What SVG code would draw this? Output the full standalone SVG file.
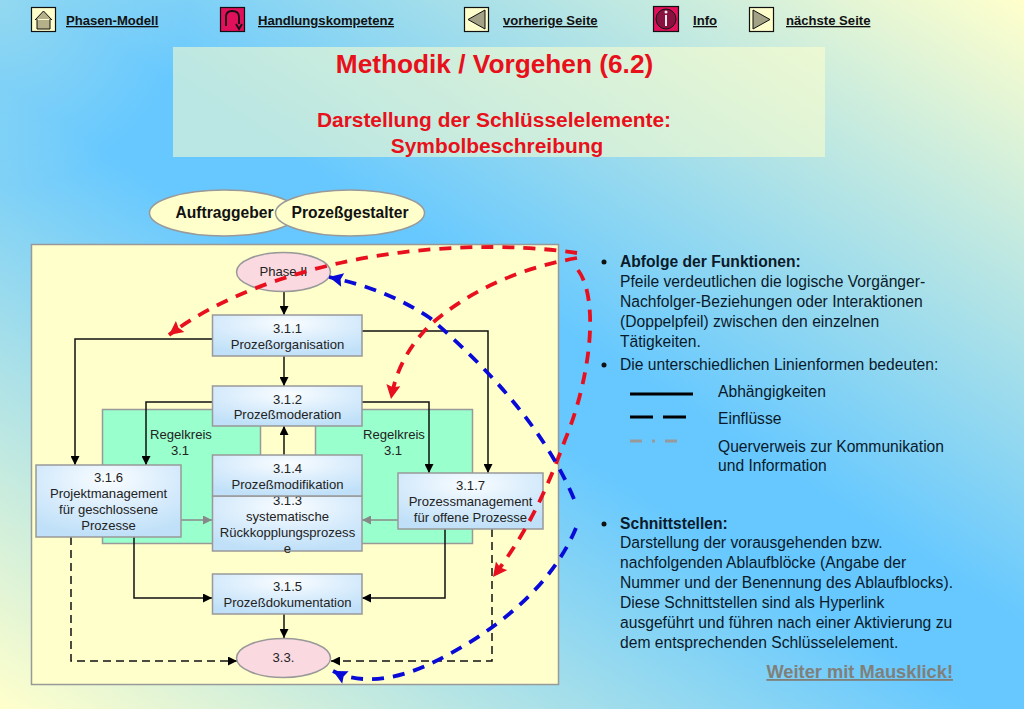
<svg xmlns="http://www.w3.org/2000/svg" width="1024" height="709" viewBox="0 0 1024 709">
<style>
text{font-family:"Liberation Sans",Arial,sans-serif;fill:#111}
.nav{font-size:13.1px;font-weight:bold;text-decoration:underline}
.t{font-size:13.1px;text-anchor:middle;fill:#222}
.r{font-size:15.65px;fill:#0a1a2a}
.b{font-weight:bold}
.box{fill:url(#boxg);stroke:#999;stroke-width:1.5}
.ell{fill:#fbd9e0;stroke:#999;stroke-width:1.5}
.cream{fill:#ffffcc;stroke:#999;stroke-width:1.5}
.green{fill:#99ffcc;stroke:#999;stroke-width:1.5}
.c{fill:none;stroke:#111;stroke-width:1.5}
.d{stroke-dasharray:8 5}
.red{fill:none;stroke:#e8101e;stroke-width:3.8;stroke-dasharray:12 9}
.blue{fill:none;stroke:#0a0ad8;stroke-width:3.8;stroke-dasharray:12 9}
.icon{fill:#ffffcc;stroke:#111;stroke-width:1.2}
.iconr{fill:#e0105a;stroke:#111;stroke-width:1.2}
</style>
<defs>
<linearGradient id="bg" gradientUnits="userSpaceOnUse" x1="820" y1="-129" x2="204" y2="837">
<stop offset="0" stop-color="#ffffcc"/><stop offset="0.46" stop-color="#66c8ff"/><stop offset="0.54" stop-color="#66c8ff"/><stop offset="1" stop-color="#ffffcc"/>
</linearGradient>
<radialGradient id="corner" gradientUnits="userSpaceOnUse" cx="0" cy="0" r="190">
<stop offset="0" stop-color="#ffffcc" stop-opacity="0.3"/><stop offset="1" stop-color="#ffffcc" stop-opacity="0"/>
</radialGradient>
<radialGradient id="boxg" cx="0.5" cy="0.2" r="0.8">
<stop offset="0" stop-color="#fafdff"/><stop offset="0.55" stop-color="#d8ecfc"/><stop offset="1" stop-color="#bfe0f8"/>
</radialGradient>
<marker id="a" viewBox="0 0 10 10" refX="10" refY="5" markerWidth="10" markerHeight="9" markerUnits="userSpaceOnUse" orient="auto"><path d="M0 0L10 5L0 10z" fill="#000"/></marker>
<marker id="g" viewBox="0 0 10 10" refX="10" refY="5" markerWidth="10" markerHeight="9" markerUnits="userSpaceOnUse" orient="auto"><path d="M0 0L10 5L0 10z" fill="#888"/></marker>
<marker id="ar" viewBox="0 0 10 10" refX="10" refY="5" markerWidth="15" markerHeight="14" markerUnits="userSpaceOnUse" orient="auto"><path d="M0 0L10 5L0 10L1.500 5z" fill="#e8101e"/></marker>
<marker id="ab" viewBox="0 0 10 10" refX="10" refY="5" markerWidth="15" markerHeight="14" markerUnits="userSpaceOnUse" orient="auto"><path d="M0 0L10 5L0 10L1.500 5z" fill="#0a0ad8"/></marker>
</defs>
<rect width="1024" height="709" fill="url(#bg)"/>
<rect width="200" height="200" fill="url(#corner)"/>

<g id="nav">
<g id="nav-home"><rect class="icon" x="31.500" y="7.500" width="24" height="24"/><path d="M35 20L43.500 11L52 20M37 19V29H50V19" fill="#b5b08a" stroke="#111"/><text class="nav" x="66" y="25">Phasen-Modell</text></g>
<g id="nav-hand"><rect class="iconr" x="220.500" y="7.500" width="24" height="24"/><path d="M226 26V17Q226 11 232 11Q239 11 239 17V24M236 24L239 29L242 24" fill="none" stroke="#111" stroke-width="1.800"/><text class="nav" x="258" y="25">Handlungskompetenz</text></g>
<g id="nav-prev"><rect class="icon" x="464.500" y="7.500" width="24" height="24"/><path d="M468 19.500L485 10V29z" fill="#a3a287" stroke="#111"/><text class="nav" x="503" y="25">vorherige Seite</text></g>
<g id="nav-info"><rect class="iconr" x="653.500" y="6.500" width="25" height="25"/><circle cx="666" cy="19" r="10" fill="#8a1040" stroke="#111"/><path d="M666 15V26" stroke="#eee" stroke-width="2"/><circle cx="666" cy="12" r="1.500" fill="#eee"/><text class="nav" x="693" y="25">Info</text></g>
<g id="nav-next"><rect class="icon" x="749.500" y="7.500" width="24" height="24"/><path d="M753 10L770 19.500L753 29z" fill="#a3a287" stroke="#111"/><text class="nav" x="786" y="25">nächste Seite</text></g>
</g>

<g id="title">
<rect x="173" y="47" width="652" height="110" fill="#ffffcc" fill-opacity="0.55" stroke="none"/>
<text x="494.500" y="73" font-size="26.250" font-weight="bold" text-anchor="middle" style="fill:#e8101a">Methodik / Vorgehen (6.2)</text>
<text x="494" y="127" font-size="20.900" font-weight="bold" text-anchor="middle" style="fill:#e8101a">Darstellung der Schlüsselelemente:</text>
<text x="497" y="153" font-size="20.900" font-weight="bold" text-anchor="middle" style="fill:#e8101a">Symbolbeschreibung</text>
</g>

<g id="role-auftraggeber"><ellipse class="cream" cx="224" cy="213" rx="74.500" ry="23"/><text x="224.500" y="218" font-size="15.600" font-weight="bold" text-anchor="middle">Auftraggeber</text></g>
<g id="role-prozess"><ellipse class="cream" cx="350" cy="213" rx="74.500" ry="23"/><text x="350" y="218" font-size="15.600" font-weight="bold" text-anchor="middle">Prozeßgestalter</text></g>

<rect id="panel" class="cream" x="31.500" y="244.500" width="527" height="440"/>
<g id="regelkreis-left"><rect class="green" x="102.500" y="409.500" width="158" height="134"/><text class="t" x="181" y="439">Regelkreis</text><text class="t" x="180" y="455">3.1</text></g>
<g id="regelkreis-right"><rect class="green" x="315.500" y="409.500" width="157" height="134"/><text class="t" x="394" y="439">Regelkreis</text><text class="t" x="393" y="455">3.1</text></g>

<g id="connectors">
<path class="c" marker-end="url(#a)" d="M284 291V315"/>
<path class="c" marker-end="url(#a)" d="M212 339H75V465"/>
<path class="c" marker-end="url(#a)" d="M362 331H488V473"/>
<path class="c" marker-end="url(#a)" d="M212 402H146V465"/>
<path class="c" marker-end="url(#a)" d="M362 402H429V473"/>
<path class="c" marker-end="url(#a)" d="M284 356V386"/>
<path class="c" marker-end="url(#a)" d="M284 455V426"/>
<path class="c" style="stroke:#888" marker-end="url(#g)" d="M181 520H212"/>
<path class="c" style="stroke:#888" marker-end="url(#g)" d="M398 520H362"/>
<path class="c" marker-end="url(#a)" d="M134 537V598H212"/>
<path class="c" marker-end="url(#a)" d="M445 529V598H362"/>
<path class="c" marker-end="url(#a)" d="M284 614V638"/>
<path class="c d" marker-end="url(#a)" d="M71 537V661H237"/>
<path class="c d" marker-end="url(#a)" d="M492 529V661H331"/>
</g>

<g id="n-phase2"><ellipse class="ell" cx="283.500" cy="272" rx="47" ry="19.500"/><text class="t" x="283.500" y="276">Phase II</text></g>
<g id="n-311"><rect class="box" x="212.500" y="315" width="149.500" height="41"/><text class="t" x="287.500" y="333">3.1.1</text><text class="t" x="287.500" y="349">Prozeßorganisation</text></g>
<g id="n-312"><rect class="box" x="212.500" y="386" width="149.500" height="40"/><text class="t" x="287.500" y="404">3.1.2</text><text class="t" x="287.500" y="419">Prozeßmoderation</text></g>
<g id="n-313"><rect class="box" x="212.500" y="496" width="149.500" height="55"/><text class="t" x="287.500" y="505">3.1.3</text><text class="t" x="287.500" y="521">systematische</text><text class="t" x="287.500" y="537">Rückkopplungsprozess</text><text class="t" x="287.500" y="553">e</text></g>
<g id="n-314"><rect class="box" x="212.500" y="455" width="149.500" height="41"/><text class="t" x="287.500" y="473">3.1.4</text><text class="t" x="287.500" y="489">Prozeßmodifikation</text></g>
<g id="n-315"><rect class="box" x="212.500" y="574" width="149.500" height="40"/><text class="t" x="287.500" y="591">3.1.5</text><text class="t" x="287.500" y="607">Prozeßdokumentation</text></g>
<g id="n-316"><rect class="box" x="36" y="465" width="145" height="72"/><text class="t" x="108.500" y="482">3.1.6</text><text class="t" x="108.500" y="498">Projektmanagement</text><text class="t" x="108.500" y="514">für geschlossene</text><text class="t" x="108.500" y="530">Prozesse</text></g>
<g id="n-317"><rect class="box" x="398" y="473" width="145" height="56"/><text class="t" x="470.500" y="490">3.1.7</text><text class="t" x="470.500" y="506">Prozessmanagement</text><text class="t" x="470.500" y="522">für offene Prozesse</text></g>
<g id="n-33"><ellipse class="ell" cx="283.500" cy="658" rx="47" ry="19.500"/><text class="t" x="283.500" y="662">3.3.</text></g>

<g id="hyperlinks">
<path class="red" marker-end="url(#ar)" d="M577 253C510 243 420 245 340 263C280 276 215 300 169 335"/>
<path class="red" marker-end="url(#ar)" d="M577 258C520 268 470 290 430 325C405 350 395 375 391 399"/>
<path class="red" marker-end="url(#ar)" d="M578 270C600 300 590 380 565 440C545 495 525 535 493 577"/>
<path class="blue" marker-end="url(#ab)" d="M574 499C545 430 490 370 430 318C395 295 365 285 329 277"/>
<path class="blue" marker-end="url(#ab)" d="M576 528C550 590 490 635 430 664C395 680 360 685 333 671"/>
</g>

<g id="legend">
<circle cx="604" cy="262" r="2.500" fill="#111"/>
<text class="r b" x="620" y="267">Abfolge der Funktionen:</text>
<text class="r" x="620" y="287">Pfeile verdeutlichen die logische Vorgänger-</text>
<text class="r" x="620" y="307">Nachfolger-Beziehungen oder Interaktionen</text>
<text class="r" x="620" y="327">(Doppelpfeil) zwischen den einzelnen</text>
<text class="r" x="620" y="347">Tätigkeiten.</text>
<circle cx="604" cy="365" r="2.500" fill="#111"/>
<text class="r" x="620" y="370">Die unterschiedlichen Linienformen bedeuten:</text>
<path d="M630 394H693" stroke="#000" stroke-width="3" fill="none"/>
<path d="M630 417H687" stroke="#000" stroke-width="3" stroke-dasharray="23 10" fill="none"/>
<path d="M630 441H687" stroke="#999" stroke-width="3" stroke-dasharray="12 10 3 10" fill="none"/>
<text class="r" x="718" y="397">Abhängigkeiten</text>
<text class="r" x="718" y="424">Einflüsse</text>
<text class="r" x="718" y="452">Querverweis zur Kommunikation</text>
<text class="r" x="718" y="471">und Information</text>
<circle cx="604" cy="524" r="2.500" fill="#111"/>
<text class="r b" x="620" y="529">Schnittstellen:</text>
<text class="r" x="620" y="548">Darstellung der vorausgehenden bzw.</text>
<text class="r" x="620" y="568">nachfolgenden Ablaufblöcke (Angabe der</text>
<text class="r" x="620" y="588">Nummer und der Benennung des Ablaufblocks).</text>
<text class="r" x="620" y="608">Diese Schnittstellen sind als Hyperlink</text>
<text class="r" x="620" y="628">ausgeführt und führen nach einer Aktivierung zu</text>
<text class="r" x="620" y="648">dem entsprechenden Schlüsselelement.</text>
<text x="953" y="678" font-size="18.300" font-weight="bold" text-anchor="end" text-decoration="underline" style="fill:#80807a">Weiter mit Mausklick!</text>
</g>
</svg>
